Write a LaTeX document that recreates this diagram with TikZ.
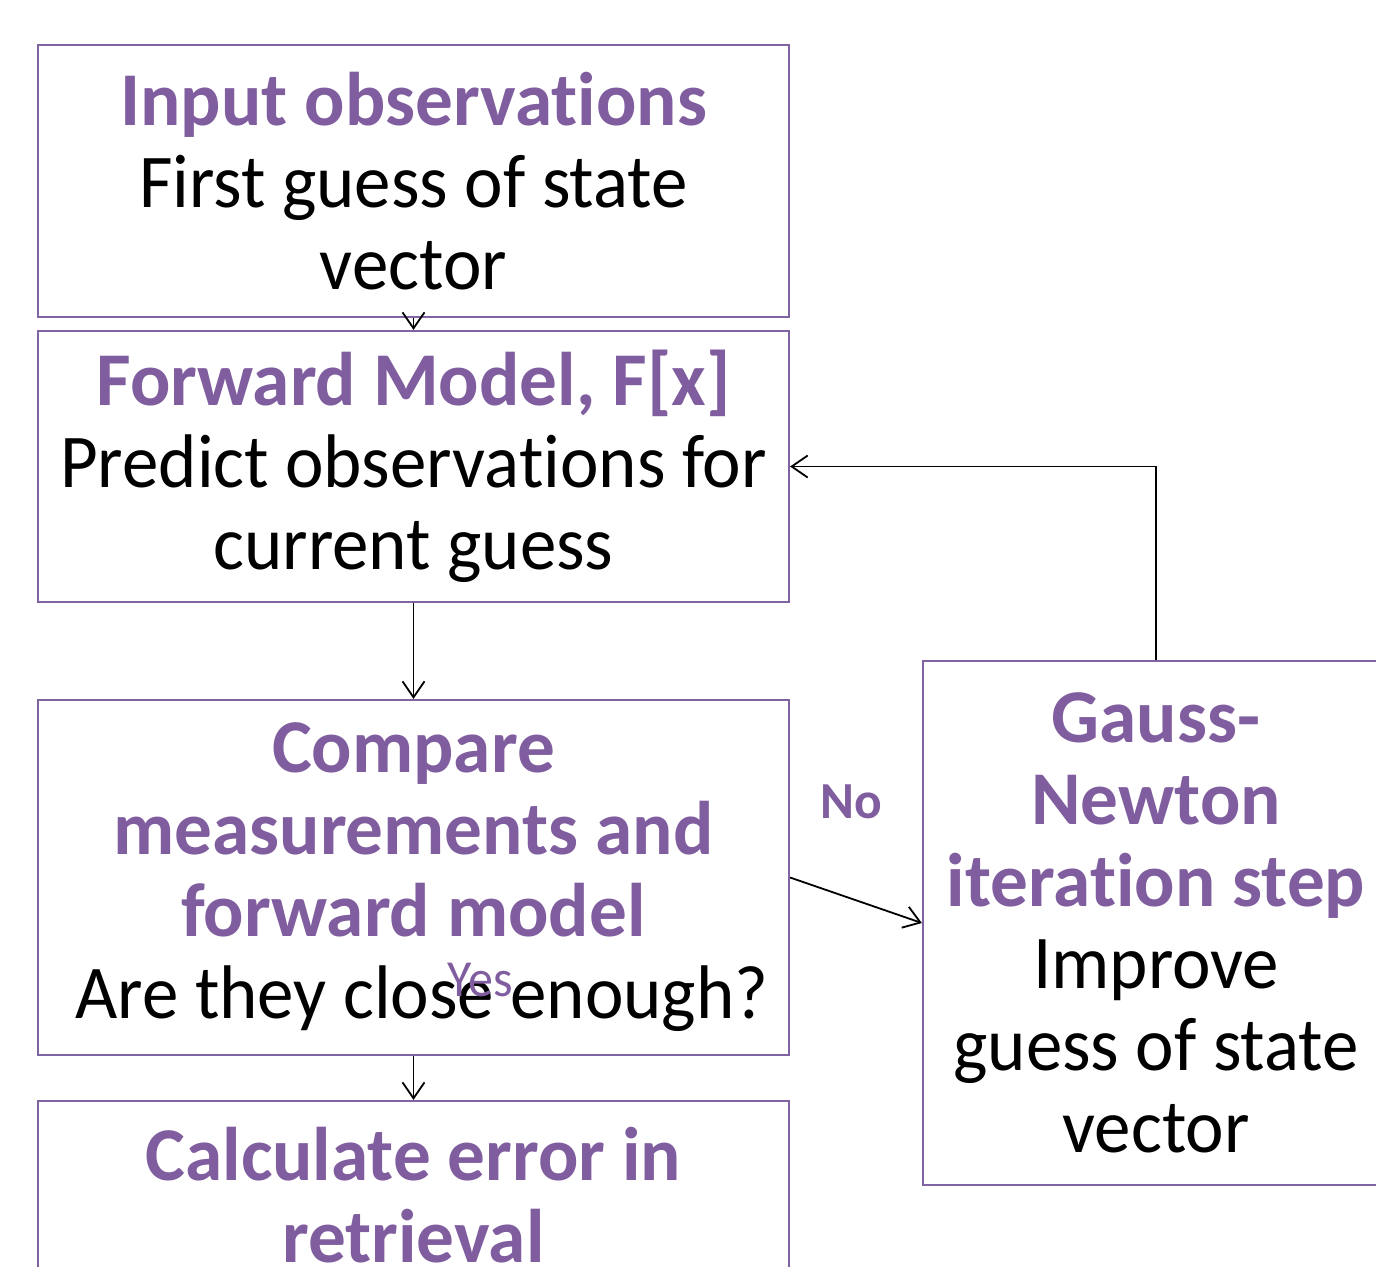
\documentclass[tikz,border=0pt]{standalone}
\usepackage{fontspec}
\setmainfont[FakeStretch=0.96, Ligatures=NoCommon, BoldFeatures={FakeStretch=0.99}]{Carlito}
\usetikzlibrary{arrows.meta}
\definecolor{boxpurple}{RGB}{128,100,162}
\definecolor{txtpurple}{RGB}{128,93,158}
\begin{document}
\begin{tikzpicture}[x=0.5pt,y=-0.5pt,
  box/.style={draw=boxpurple, line width=1.1pt, minimum width=375.5pt, align=center, inner sep=0pt,
    font=\fontsize{38}{41}\selectfont},
  arr/.style={draw=black, line width=0.9pt, -{Straight Barb[length=8pt,width=11pt,line width=0.9pt]}},
  lbl/.style={text=txtpurple, font=\fontsize{26}{28}\selectfont\bfseries, inner sep=0pt}]
\useasboundingbox (0,0) rectangle (1376,1266);
\clip (0,0) rectangle (1376,1266);
\newcommand{\hdtext}[1]{{\color{txtpurple}\bfseries #1}}
\node[box, minimum height=136pt] (obs) at (413.5,181)
  {\hdtext{Input observations}\\First guess of state\\vector};
\node[box, minimum height=135.5pt] (fwd) at (413.5,466.5)
  {\hdtext{Forward Model, F[x]}\\Predict observations for\\current guess};
\node[box, minimum height=177.5pt] (cmp) at (413.5,877.5)
  {\hdtext{Compare}\\\hdtext{measurements and}\\\hdtext{forward model}\\\hspace*{8.5pt}Are they close enough?};
\node[box, minimum height=94pt] (err) at (413.5,1195)
  {\hdtext{Calculate error in}\\\hdtext{retrieval}};
\node[box, minimum width=233pt, minimum height=262pt] (gn) at (1156,923)
  {\hdtext{Gauss-}\\\hdtext{Newton}\\\hdtext{iteration step}\\Improve\\guess of state\\vector};
\draw[arr] (obs.south) -- (fwd.north);
\draw[arr] (fwd.south) -- (cmp.north);
\draw[arr] (cmp.south) -- (err.north);
\draw[arr] (cmp.east) -- (gn.west);
\draw[arr] (gn.north) |- (fwd.east);
\node[lbl] (no) at (851,802) {No};
\node[lbl, font=\fontsize{26}{28}\selectfont] (yes) at (480,980) {Yes};
\end{tikzpicture}
\end{document}
